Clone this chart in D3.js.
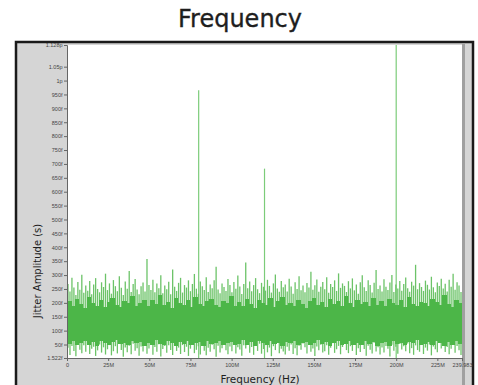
<!DOCTYPE html>
<html><head><meta charset="utf-8">
<script src="https://cdn.jsdelivr.net/npm/d3@7"></script>
<style>html,body{margin:0;padding:0;background:#fff;}svg{display:block;}</style>
</head><body>
<script>
// ---- data (amplitudes in femtoseconds, frequency in MHz) ----
const fMax = 239.983;
const yMin = 1.522, yMax = 1128;
const xTickValues = [0, 25, 50, 75, 100, 125, 150, 175, 200, 225];
const yTickValues = [1.522, 50, 100, 150, 200, 250, 300, 350, 400, 450, 500, 550, 600, 650, 700, 750, 800, 850, 900, 950, 1000, 1050, 1128];
const yTickLabels = ["1.522f","50f","100f","150f","200f","250f","300f","350f","400f","450f","500f","550f","600f","650f","700f","750f","800f","850f","900f","950f","1p","1.05p","1.128p"];
const spikeFreq = [80, 120, 200];
const spikeAmp = [965, 683, 1128];
// peak envelope of the noise floor
const noiseHigh = [
268,241,290,255,228,275,247,301,236,262,
244,279,231,266,289,250,238,274,257,305,
246,270,233,282,260,242,296,254,228,277,
251,315,239,268,286,248,231,260,273,241,
358,264,246,283,238,270,253,299,235,262,
249,276,231,320,258,243,272,290,237,264,
255,281,242,268,304,251,233,277,260,246,
292,239,266,253,281,330,248,235,270,257,
243,286,264,238,275,251,298,259,232,268,
345,253,277,242,264,289,249,235,272,258,
244,283,261,237,270,302,252,240,279,256,
266,241,287,259,233,274,250,296,245,262,
238,271,255,312,247,263,284,240,258,275,
249,292,236,268,257,281,243,306,254,270,
261,239,278,252,288,245,266,233,274,299,
256,243,281,264,237,272,318,250,262,241,
285,258,246,273,300,239,266,252,279,244,
268,291,253,240,276,262,337,249,271,257,
243,280,265,248,294,256,238,273,261,287,
252,269,241,283,258,305,247,274,262,239];
// lower envelope of the noise floor
const noiseLow = [
38,12,45,27,8,52,31,19,47,24,
55,16,35,42,9,29,50,21,40,14,
33,48,11,26,44,18,57,30,6,39,
22,46,15,53,28,37,10,43,25,49,
17,36,58,13,41,24,51,7,34,45,
20,47,30,12,54,27,39,16,48,23,
42,9,35,50,19,31,44,14,56,28,
11,38,24,49,33,6,46,21,37,52,
29,15,43,26,55,18,40,32,10,47,
36,51,20,41,13,45,27,53,17,34,
48,22,39,8,44,30,57,19,35,25,
14,42,28,50,16,37,11,46,31,54,
40,18,52,24,36,9,43,29,49,21,
26,47,13,38,55,20,33,45,15,41,
53,30,19,44,27,50,12,37,23,48,
34,10,46,31,18,56,25,40,14,39,
21,45,35,7,49,28,42,17,52,32,
44,26,54,19,37,13,47,30,24,51,
16,39,28,50,11,43,33,22,56,36,
47,23,41,15,35,52,20,45,29,12];
// dense core of the noise floor (upper and lower edges)
const coreHigh = [
205,188,214,196,182,221,199,190,210,185,
203,218,192,184,207,198,226,189,201,212,
187,209,195,230,191,204,183,216,200,193,
211,186,220,197,189,206,215,192,184,208,
199,224,190,203,187,213,196,181,209,201,
194,217,186,205,222,191,200,188,212,197,
183,208,219,192,202,186,214,195,207,190,
225,199,184,211,196,203,189,218,193,206,
188,213,201,194,209,185,220,197,190,204,
198,187,215,203,191,228,195,184,210,200];
const coreLow = [
52,61,48,57,64,50,59,46,62,55,
49,58,66,51,56,47,63,54,60,45,
57,50,65,53,48,61,55,44,59,52,
63,49,56,58,46,62,51,57,64,48,
55,60,47,53,66,50,58,45,61,54,
49,63,52,57,46,59,55,62,48,56,
60,47,54,65,51,58,44,57,63,50,
53,61,49,56,47,62,52,59,45,55,
58,46,63,51,57,48,60,54,66,49,
52,59,47,62,55,45,58,50,61,53];

// ---- drawing ----
const W = 478, H = 385;
const svg = d3.select("body").append("svg").attr("width", W).attr("height", H);

svg.append("text").attr("x", 240).attr("y", 27).attr("text-anchor", "middle")
  .attr("font-family", "DejaVu Sans").attr("font-size", 24).attr("fill", "#1e1e1e")
  .attr("stroke", "#1e1e1e").attr("stroke-width", 0.35).text("Frequency");

// frame
svg.append("rect").attr("x", 16).attr("y", 42).attr("width", 457).attr("height", 350)
  .attr("fill", "#d5d5d5").attr("stroke", "#1a1a1a").attr("stroke-width", 2.5);

const x = d3.scaleLinear().domain([0, fMax]).range([67, 462]);
const y = d3.scaleLinear().domain([yMin, yMax]).range([358, 45]);

svg.append("defs").append("clipPath").attr("id", "plotclip")
  .append("rect").attr("x", 67).attr("y", 45).attr("width", 395).attr("height", 313);
svg.append("rect").attr("x", 67).attr("y", 45).attr("width", 395).attr("height", 313).attr("fill", "#ffffff");
svg.append("rect").attr("x", 462).attr("y", 44).attr("width", 3).attr("height", 341).attr("fill", "#a0a0a0");

const g = svg.append("g").attr("clip-path", "url(#plotclip)");
// spurs
g.selectAll("line.sp").data(spikeFreq).join("line").attr("class", "sp")
  .attr("x1", d => x(d)).attr("x2", d => x(d))
  .attr("y1", y(yMin)).attr("y2", (d, i) => y(spikeAmp[i]))
  .attr("stroke", "#7ccc79").attr("stroke-width", 1.2);
// thin peak lines
const n = noiseHigh.length, step = fMax / n;
g.selectAll("line.nz").data(noiseHigh).join("line").attr("class", "nz")
  .attr("x1", (d, i) => x((i + 0.5) * step)).attr("x2", (d, i) => x((i + 0.5) * step))
  .attr("y1", (d, i) => y(noiseLow[i])).attr("y2", d => y(d))
  .attr("stroke", "#6cc368").attr("stroke-width", 1.3);
// dense core
const m = coreHigh.length, cstep = fMax / m;
g.selectAll("rect.core").data(coreHigh).join("rect").attr("class", "core")
  .attr("shape-rendering", "crispEdges")
  .attr("x", (d, i) => x(i * cstep))
  .attr("width", (d, i) => x((i + 1) * cstep) - x(i * cstep) + 0.6)
  .attr("y", d => y(d))
  .attr("height", (d, i) => y(coreLow[i]) - y(d))
  .attr("fill", "#4cb648");

const fontAx = "Liberation Sans";
const xAxis = d3.axisBottom(x).tickValues(xTickValues.concat([fMax]))
  .tickFormat(d => d === 0 ? "0" : (d === fMax ? "239.983" : d + "M")).tickSize(3).tickPadding(2);
const gx = svg.append("g").attr("transform", "translate(0,358)").call(xAxis);
gx.selectAll("text").attr("font-family", fontAx).attr("font-size", 5.5).attr("fill", "#444");
gx.selectAll("line, path").attr("stroke", "#666");

const yAxis = d3.axisLeft(y).tickValues(yTickValues)
  .tickFormat((d, i) => yTickLabels[i]).tickSize(3).tickPadding(1.5);
const gy = svg.append("g").attr("transform", "translate(67,0)").call(yAxis);
gy.selectAll("text").attr("font-family", fontAx).attr("font-size", 5.5).attr("fill", "#444");
gy.selectAll("line, path").attr("stroke", "#666");

svg.append("text").attr("transform", "translate(41,271) rotate(-90)").attr("text-anchor", "middle")
  .attr("font-family", "DejaVu Sans").attr("font-size", 10).attr("fill", "#1e1e1e").text("Jitter Amplitude (s)");
svg.append("text").attr("x", 260).attr("y", 383).attr("text-anchor", "middle")
  .attr("font-family", "DejaVu Sans").attr("font-size", 10.5).attr("fill", "#1e1e1e").text("Frequency (Hz)");
</script>
</body></html>
